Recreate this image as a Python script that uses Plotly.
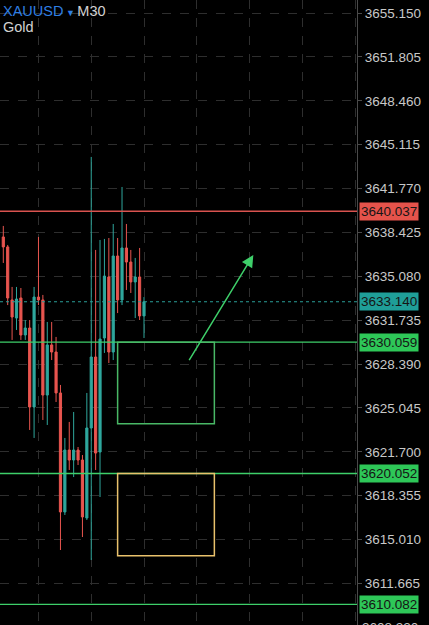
import plotly.graph_objects as go

# M30 candles (oldest -> newest)
opens = [3638.08, 3637.32, 3633.28, 3631.90, 3633.43, 3630.61, 3631.14, 3625.12,
         3633.50, 3633.28, 3626.03, 3629.85, 3629.31, 3626.19, 3617.12, 3621.84,
         3621.08, 3621.84, 3621.08, 3616.66, 3623.52, 3628.93, 3621.69, 3630.38,
         3635.03, 3629.31, 3636.63, 3633.28, 3637.24, 3636.17, 3634.65, 3635.03,
         3632.06]
highs = [3638.92, 3637.47, 3634.27, 3634.27, 3634.19, 3631.75, 3631.75, 3634.27,
         3638.08, 3633.66, 3631.60, 3631.60, 3630.46, 3626.80, 3622.76, 3623.98,
         3624.74, 3622.07, 3621.46, 3626.19, 3644.18, 3637.09, 3637.85, 3637.93,
         3638.00, 3639.07, 3638.00, 3641.89, 3639.07, 3637.09, 3636.48, 3637.24,
         3633.50]
lows = [3636.10, 3632.89, 3630.23, 3630.99, 3630.23, 3630.23, 3623.37, 3622.76,
        3632.89, 3624.13, 3623.75, 3628.70, 3625.50, 3614.22, 3616.89, 3620.32,
        3619.78, 3620.70, 3615.21, 3616.51, 3613.46, 3620.32, 3618.26, 3629.24,
        3628.47, 3628.70, 3632.28, 3632.89, 3634.04, 3633.81, 3631.90, 3631.75,
        3630.38]
closes = [3637.32, 3633.43, 3631.98, 3633.35, 3630.61, 3631.14, 3625.12, 3633.50,
          3633.28, 3626.03, 3629.85, 3629.31, 3626.19, 3617.12, 3621.84, 3621.08,
          3621.84, 3621.08, 3616.74, 3623.52, 3628.93, 3621.61, 3630.30, 3635.10,
          3629.31, 3636.63, 3633.28, 3637.24, 3636.17, 3634.65, 3635.03, 3632.06,
          3633.14]
bars = list(range(len(opens)))

# price scale
price_range = [3608.504, 3656.141]
price_ticks = [3655.150, 3651.805, 3648.460, 3645.115, 3641.770, 3638.425,
               3635.080, 3631.735, 3628.390, 3625.045, 3621.700, 3618.355,
               3615.010, 3611.665]
cut_tick = 3608.320
time_grid = [8, 20, 32, 44, 56, 68, 80]

# drawn objects
resistance = 3640.037
last_price = 3633.140
supports = [3630.059, 3620.052, 3610.082]
buy_zone = [26, 48, 3623.85, 3630.059]      # x0, x1, y0, y1
target_zone = [26, 48, 3613.79, 3620.052]
arrow_from = [42.07, 3628.57]
arrow_to = [56.86, 3636.71]

RED = "#e8554f"
TEAL = "#2fa79d"
GREEN = "#3ecf6a"
GRID = "#2e2e2e"
FONT = "Liberation Sans, Arial, sans-serif"

fig = go.Figure()

fig.add_trace(go.Candlestick(
    x=bars, open=opens, high=highs, low=lows, close=closes,
    increasing=dict(line=dict(color=TEAL, width=1), fillcolor=TEAL),
    decreasing=dict(line=dict(color=RED, width=1), fillcolor=RED),
    whiskerwidth=0,
    showlegend=False,
))

# level lines
fig.add_hline(y=resistance, line_color="#d9534f", line_width=1.5)
fig.add_hline(y=last_price, line_color="#2a9d96", line_width=1.2, line_dash="dot")
for lvl in supports:
    fig.add_hline(y=lvl, line_color=GREEN, line_width=1.3)

# zones
fig.add_shape(type="rect", x0=buy_zone[0], x1=buy_zone[1], y0=buy_zone[2], y1=buy_zone[3],
              line=dict(color="#49b866", width=1.5))
fig.add_shape(type="rect", x0=target_zone[0], x1=target_zone[1],
              y0=target_zone[2], y1=target_zone[3],
              line=dict(color="#e9c16c", width=1.5))

# arrow
fig.add_annotation(x=arrow_to[0], y=arrow_to[1], ax=arrow_from[0], ay=arrow_from[1],
                   axref="x", ayref="y", xref="x", yref="y", text="",
                   showarrow=True, arrowhead=2, arrowsize=1.6, arrowwidth=1.5,
                   arrowcolor=GREEN)

# price labels on the axis
tags = [(resistance, "#e5534b"), (last_price, "#1f9e98")] + [(v, "#2ec758") for v in supports]
for val, bg in tags:
    fig.add_annotation(x=1, xref="paper", y=val, yref="y", xanchor="left", yanchor="middle",
                       text=f"{val:.3f}", showarrow=False, bgcolor=bg, borderpad=1,
                       xshift=2, font=dict(family=FONT, size=13.5, color="#151515"))

# next tick just below the visible range, only its top shows at the window edge
cut_pos = (cut_tick - price_range[0]) / (price_range[1] - price_range[0])
fig.add_annotation(x=1, xref="paper", y=cut_pos, yref="paper", xanchor="left",
                   yanchor="middle", text=f"{cut_tick:.3f}", showarrow=False, xshift=3,
                   font=dict(family=FONT, size=13.5, color="#c8c8c8"))

# symbol header
fig.add_annotation(x=0, y=1, xref="paper", yref="paper", xanchor="left", yanchor="top",
                   xshift=1, yshift=-1, showarrow=False, align="left",
                   text='<span style="color:#2f7fe3">XAUUSD</span>'
                        '<span style="color:#2f7fe3;font-size:9px"> ▼ </span>M30',
                   font=dict(family=FONT, size=14.5, color="#d2d2d2"))
fig.add_annotation(x=0, y=1, xref="paper", yref="paper", xanchor="left", yanchor="top",
                   xshift=1, yshift=-17, showarrow=False, text="Gold",
                   font=dict(family=FONT, size=14.5, color="#d2d2d2"))

fig.update_layout(
    width=429, height=625,
    paper_bgcolor="#000000", plot_bgcolor="#000000",
    margin=dict(l=0, r=72, t=0, b=0, pad=0, autoexpand=False),
    font=dict(family=FONT, size=13.5, color="#c8c8c8"),
    showlegend=False,
    xaxis=dict(range=[-0.75, 80.44], tickvals=time_grid, showticklabels=False,
               showgrid=True, gridcolor=GRID, griddash="dash", gridwidth=1,
               zeroline=False, rangeslider=dict(visible=False), fixedrange=True,
               automargin=False),
    yaxis=dict(side="right", range=price_range, tickvals=price_ticks,
               ticktext=[f"{v:.3f}" for v in price_ticks], automargin=False,
               showgrid=True, gridcolor=GRID, griddash="dash", gridwidth=1,
               zeroline=False, showline=True, linecolor="#4a4a4a", linewidth=1,
               ticks="outside", ticklen=4, tickcolor="#4a4a4a",
               tickfont=dict(family=FONT, size=13.5, color="#c8c8c8")),
)

# the page body has an 8px default margin; drop it so the chart sits at 0,0
fig.write_html("out.html", config={"displayModeBar": False},
               post_script="document.body.style.margin='0';document.body.style.background='#000';")
